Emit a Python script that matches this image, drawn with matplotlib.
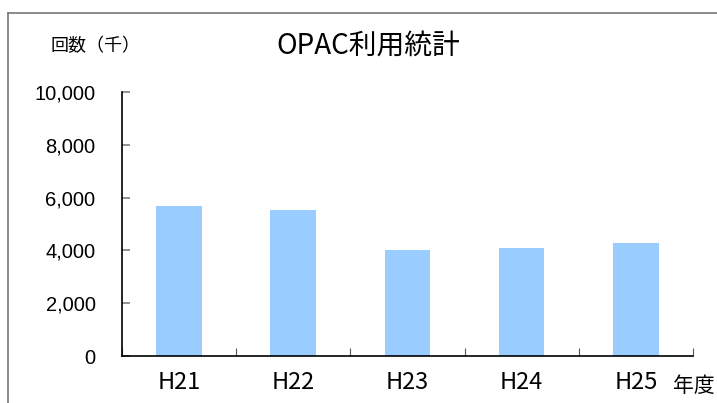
import matplotlib
matplotlib.use("Agg")
import matplotlib.pyplot as plt
from matplotlib.ticker import FuncFormatter, FixedLocator
from matplotlib.lines import Line2D

plt.rcParams['font.family'] = ['Noto Sans CJK JP', 'DejaVu Sans']

categories = ["H21", "H22", "H23", "H24", "H25"]
values = [5700, 5530, 4020, 4100, 4300]
yticks = [0, 2000, 4000, 6000, 8000, 10000]

fig = plt.figure(figsize=(7.17, 4.03), dpi=100)
ax = fig.add_axes([0.170, 0.1166, 0.7965, 0.655])

x = list(range(len(categories)))
ax.bar(x, values, width=0.4, color="#99CCFF", edgecolor="none")

ax.set_xlim(-0.5, len(categories) - 0.5)
ax.set_ylim(0, 10000)

ax.set_yticks(yticks)
ax.yaxis.set_major_formatter(FuncFormatter(lambda v, p: f"{int(v):,}"))
ax.tick_params(axis='y', direction='in', length=6, color='#808080', width=1.2,
               pad=19, labelsize=14.5)
for lbl in ax.get_yticklabels():
    lbl.set_family(['Liberation Sans', 'DejaVu Sans'])

ax.xaxis.set_major_locator(FixedLocator([i - 0.5 for i in range(len(categories) + 1)]))
ax.xaxis.set_major_formatter(FuncFormatter(lambda v, p: ""))
ax.xaxis.set_minor_locator(FixedLocator(x))
ax.set_xticklabels(categories, minor=True)
ax.tick_params(axis='x', which='major', direction='in', length=6, color='#555555')
ax.tick_params(axis='x', which='minor', length=0, pad=11, labelsize=17)

for s in ['top', 'right']:
    ax.spines[s].set_visible(False)
for s in ['left', 'bottom']:
    ax.spines[s].set_color('black')
    ax.spines[s].set_linewidth(1.2)

fig.text(368.5/717, 1 - 46/403, "OPAC利用統計", ha='center', va='center', fontsize=20)
fig.text(96/717, 1 - 46/403, "回数（千）", ha='center', va='center', fontsize=13)
fig.text(694/717, 1 - 386/403, "年度", ha='center', va='center', fontsize=15)

# figure border (top & left)
fig.add_artist(Line2D([8/717, 1.0], [1 - 13/403, 1 - 13/403], color='#777777', lw=1.2,
                      transform=fig.transFigure))
fig.add_artist(Line2D([8/717, 8/717], [1 - 13/403, 0], color='#777777', lw=1.2,
                      transform=fig.transFigure))

fig.savefig("out.png", dpi=100)
